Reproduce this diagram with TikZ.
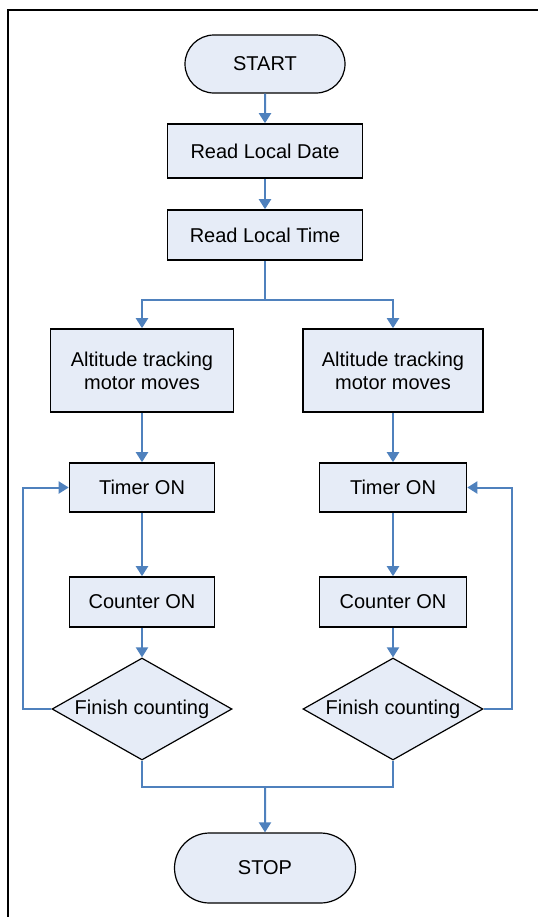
\documentclass[tikz,border=0pt]{standalone}
\usepackage{fontspec}
\setmainfont{Liberation Sans}
\usetikzlibrary{arrows.meta,shapes.geometric,shapes.misc}
\definecolor{flowblue}{RGB}{79,129,189}
\definecolor{boxfill}{RGB}{230,236,247}
\tikzset{
  procbox/.style={draw=black, fill=boxfill, line width=0.8pt, rectangle, inner sep=0pt, font=\fontsize{10}{11.5}\selectfont, align=center},
  termbox/.style={draw=black, fill=boxfill, line width=0.6pt, rounded rectangle, inner sep=0pt, font=\fontsize{10}{12}\selectfont},
  decbox/.style={draw=black, fill=boxfill, line width=0.6pt, diamond, aspect=1.76, inner sep=0pt, minimum width=90pt, minimum height=51pt, font=\fontsize{10}{12}\selectfont},
  flowline/.style={draw=flowblue, line width=1pt},
  flowarr/.style={flowline, -{Triangle[width=6pt,length=5pt]}}
}

\begin{document}
\begin{tikzpicture}[x=0.5pt, y=-0.5pt]
			%%%%% START %%%%%
			\useasboundingbox (0, 0) rectangle (538, 917);
			\draw[line width=1pt] (8, 917) -- (8, 10) -- (538, 10);
			
			\node[termbox, minimum width=80pt, minimum height=29pt] (start) at (265, 64) {START};
			\node[procbox, minimum width=97.5pt, minimum height=27pt] (date) at (265, 151) {Read Local Date};
			\node[procbox, minimum width=97.5pt, minimum height=25pt] (time) at (265, 235) {Read Local Time};
			
			\node[procbox, minimum width=91.5pt, minimum height=41.5pt] (altL) at (142, 370.5) {Altitude tracking\\motor moves};
			\node[procbox, minimum width=90pt, minimum height=41.5pt] (altR) at (393, 370.5) {Altitude tracking\\motor moves};
			
			\node[procbox, minimum width=72.5pt, minimum height=24.5pt] (timerL) at (142, 487.5) {Timer ON};
			\node[procbox, minimum width=73.5pt, minimum height=24.5pt] (timerR) at (393, 487.5) {Timer ON};
			
			\node[procbox, minimum width=72.5pt, minimum height=25pt] (cntL) at (142, 602) {Counter ON};
			\node[procbox, minimum width=73.5pt, minimum height=25pt] (cntR) at (393, 602) {Counter ON};
			
			\node[decbox] (decL) at (142, 709) {Finish counting};
			\node[decbox] (decR) at (393, 709) {Finish counting};
			
			\node[termbox, minimum width=90.5pt, minimum height=35pt] (stop) at (265, 868) {STOP};
			
			\coordinate (split) at (265, 300);
			\coordinate (merge) at (265, 787);
			\coordinate (loopL) at (23, 709);
			\coordinate (loopR) at (512, 709);
			
			\draw[flowarr] (start) -- (date);
			\draw[flowarr] (date) -- (time);
			\draw[flowline] (time) -- (split);
			\draw[flowarr] (split) -| (altL);
			\draw[flowarr] (split) -| (altR);
			
			\draw[flowarr] (altL) -- (timerL);
			\draw[flowarr] (timerL) -- (cntL);
			\draw[flowarr] (cntL) -- (decL);
			\draw[flowarr] (decL) -- (loopL) |- (timerL);
			
			\draw[flowarr] (altR) -- (timerR);
			\draw[flowarr] (timerR) -- (cntR);
			\draw[flowarr] (cntR) -- (decR);
			\draw[flowarr] (decR) -- (loopR) |- (timerR);
			
			\draw[flowline] (decL) |- (merge);
			\draw[flowline] (decR) |- (merge);
			\draw[flowarr] (merge) -- (stop);
			%%%%% END %%%%%
\end{tikzpicture}
\end{document}
